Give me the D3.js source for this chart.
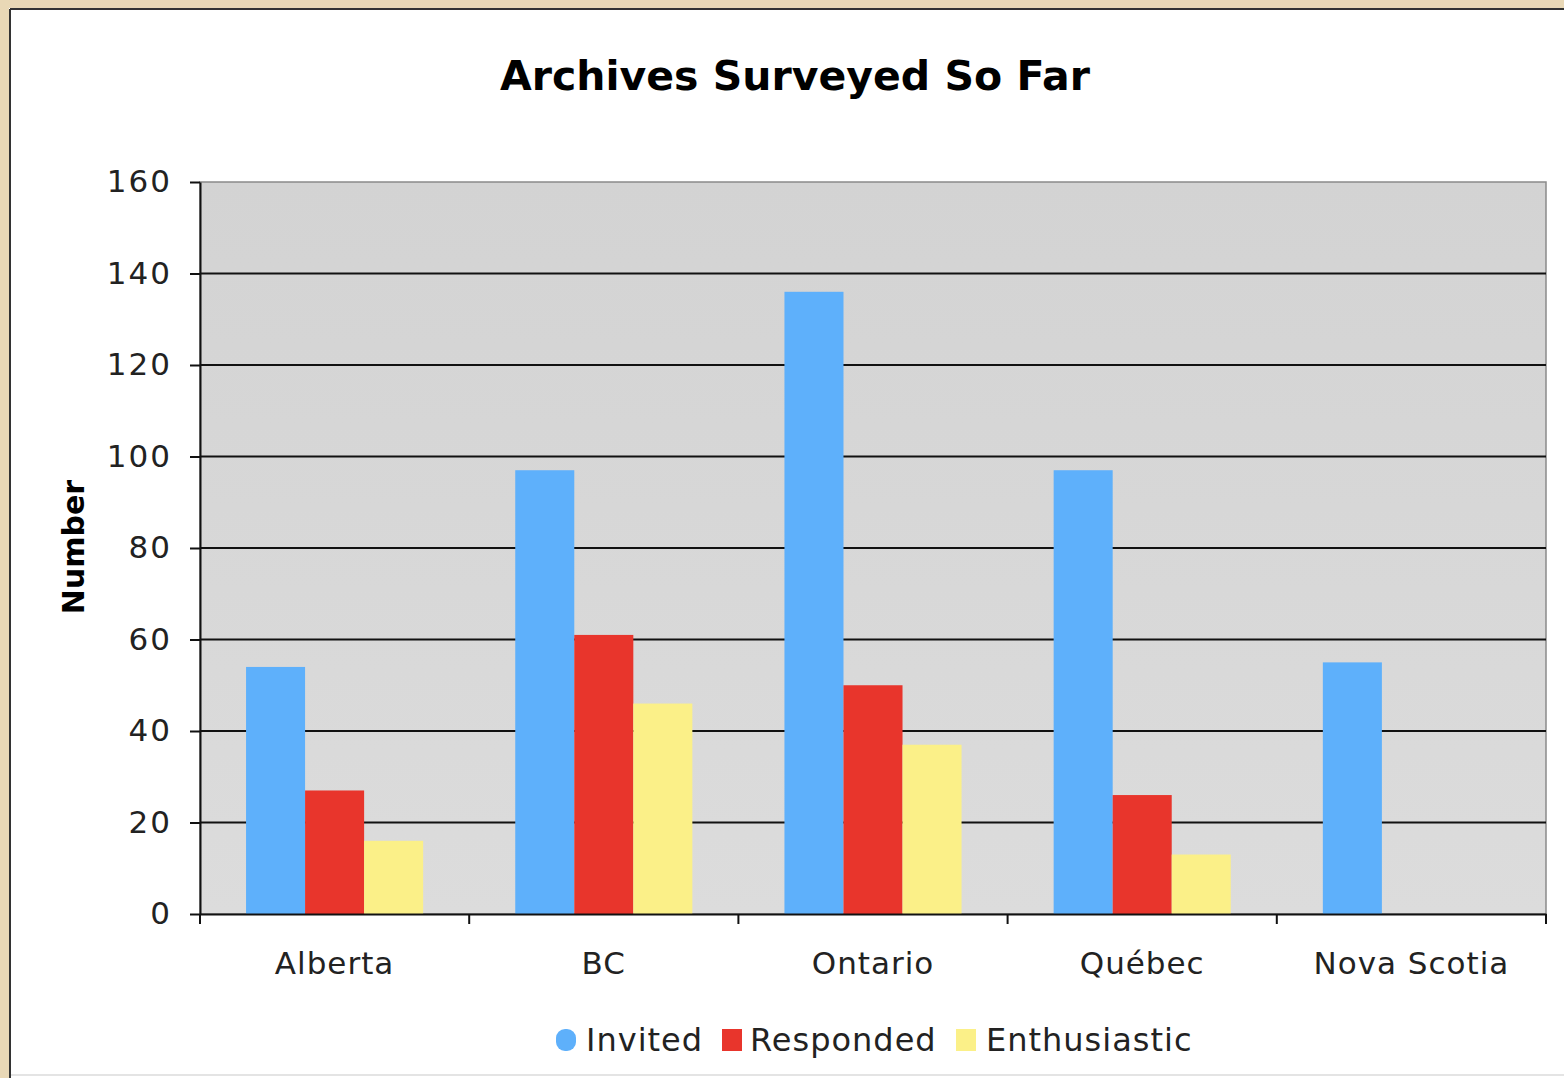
<!DOCTYPE html>
<html>
<head>
<meta charset="utf-8">
<script src="https://cdn.jsdelivr.net/npm/d3@7"></script>
<style>
  body { margin: 0; background: #fff; }
  text { font-family: "DejaVu Sans", Verdana, sans-serif; }
</style>
</head>
<body>
<div id="container"></div>
<script>
// chart data
var provinces = ["Alberta", "BC", "Ontario", "Québec", "Nova Scotia"];
var seriesNames = ["Invited", "Responded", "Enthusiastic"];
var invited = [54, 97, 136, 97, 55];
var responded = [27, 61, 50, 26, 0];
var enthusiastic = [16, 46, 37, 13, 0];
var yTicks = [0, 20, 40, 60, 80, 100, 120, 140, 160];
var colors = ["#5eb0fb", "#e8352c", "#fbf088"];

var W = 1564, H = 1078;
var margin = {top: 182, right: 18, bottom: 164, left: 200},
    width = W - margin.left - margin.right,
    height = H - margin.top - margin.bottom;

var root = d3.select("#container")
  .append("svg")
    .attr("width", W)
    .attr("height", H);

// background gradient for the plot area
var grad = root.append("defs").append("linearGradient")
  .attr("id", "plotbg").attr("x1", 0).attr("x2", 0).attr("y1", 0).attr("y2", 1);
grad.append("stop").attr("offset", "0%").attr("stop-color", "#d3d3d3");
grad.append("stop").attr("offset", "100%").attr("stop-color", "#dcdcdc");

// page frame (beige strip + dark border)
root.append("rect").attr("x", 0).attr("y", 0).attr("width", W).attr("height", 8).attr("fill", "#e9d8b6");
root.append("rect").attr("x", 0).attr("y", 0).attr("width", 9).attr("height", H).attr("fill", "#e9d8b6");
root.append("line").attr("x1", 10).attr("x2", W).attr("y1", 9).attr("y2", 9).attr("stroke", "#333").attr("stroke-width", 2);
root.append("line").attr("x1", 10).attr("x2", 10).attr("y1", 9).attr("y2", H).attr("stroke", "#333").attr("stroke-width", 2);
root.append("line").attr("x1", 11).attr("x2", W).attr("y1", 1075).attr("y2", 1075).attr("stroke", "#e4e4e4").attr("stroke-width", 2);

// title
root.append("text")
  .attr("x", 795).attr("y", 90)
  .attr("text-anchor", "middle")
  .style("font-size", "41px").style("font-weight", "bold")
  .text("Archives Surveyed So Far");

var svg = root.append("g")
  .attr("transform", "translate(" + margin.left + "," + margin.top + ")");

var table = provinces.map(function(p, i) {
  return {name: p, values: [invited[i], responded[i], enthusiastic[i]]};
});

var x0 = d3.scaleBand().domain(provinces).range([0, width]).padding(0);
var x1 = d3.scaleBand().domain(seriesNames).range([0, x0.bandwidth()]).paddingInner(0).paddingOuter(0.78);
var y = d3.scaleLinear().domain([0, 160]).range([height, 0]);

// plot background
svg.append("rect")
  .attr("width", width).attr("height", height)
  .attr("fill", "url(#plotbg)")
  .attr("stroke", "#8a8a8a").attr("stroke-width", 1.5);

// gridlines
svg.selectAll(".grid")
  .data(yTicks.filter(function(t) { return t > 0 && t < 160; }))
  .enter().append("line")
    .attr("x1", 0).attr("x2", width)
    .attr("y1", function(d) { return y(d); })
    .attr("y2", function(d) { return y(d); })
    .attr("stroke", "#111").attr("stroke-width", 2);

// bars
var groups = svg.selectAll(".grp")
  .data(table)
  .enter().append("g")
    .attr("transform", function(d) { return "translate(" + x0(d.name) + ",0)"; });

groups.selectAll("rect")
  .data(function(d) { return d.values.map(function(v, k) { return {key: seriesNames[k], value: v, k: k}; }); })
  .enter().append("rect")
    .attr("x", function(d) { return x1(d.key); })
    .attr("y", function(d) { return y(d.value); })
    .attr("width", x1.bandwidth())
    .attr("height", function(d) { return height - y(d.value); })
    .attr("fill", function(d) { return colors[d.k]; });

// Y axis
var yAxis = svg.append("g")
  .call(d3.axisLeft(y).tickValues(yTicks).tickSize(10).tickPadding(18).tickSizeOuter(0));
yAxis.select(".domain").attr("stroke", "#111").attr("stroke-width", 2);
yAxis.selectAll(".tick line").attr("stroke", "#111").attr("stroke-width", 2);
yAxis.selectAll("text")
  .style("font-family", "DejaVu Sans").style("font-size", "31px")
  .style("letter-spacing", "2px").attr("fill", "#222");

// X axis with ticks at category boundaries
var xAxis = svg.append("g")
  .attr("transform", "translate(0," + height + ")")
  .call(d3.axisBottom(x0).tickSize(0).tickPadding(38).tickSizeOuter(0));
xAxis.select(".domain").attr("stroke", "#111").attr("stroke-width", 2);
xAxis.selectAll("text")
  .style("font-family", "DejaVu Sans").style("font-size", "31px")
  .style("letter-spacing", "1px").attr("fill", "#222");
svg.selectAll(".xb")
  .data(provinces.concat(["end"]))
  .enter().append("line")
    .attr("x1", function(d, i) { return i * x0.step(); })
    .attr("x2", function(d, i) { return i * x0.step(); })
    .attr("y1", height).attr("y2", height + 10)
    .attr("stroke", "#111").attr("stroke-width", 2);

// y label
root.append("text")
  .attr("transform", "translate(84,547) rotate(-90)")
  .attr("text-anchor", "middle")
  .style("font-size", "30px").style("font-weight", "bold")
  .text("Number");

// legend
var legendX = [556, 722, 956];
var legend = root.selectAll(".leg")
  .data(seriesNames)
  .enter().append("g")
    .attr("transform", function(d, i) { return "translate(" + legendX[i] + ",1040)"; });
legend.append("rect")
  .attr("x", 0).attr("y", -11).attr("width", 20).attr("height", 22)
  .attr("rx", function(d, i) { return i === 0 ? 9 : 0; })
  .attr("fill", function(d, i) { return colors[i]; });
legend.append("text")
  .attr("x", function(d, i) { return i === 1 ? 28 : 30; })
  .attr("y", 11)
  .style("font-size", "32px").style("letter-spacing", "1px").attr("fill", "#222")
  .text(function(d) { return d; });
</script>
</body>
</html>
